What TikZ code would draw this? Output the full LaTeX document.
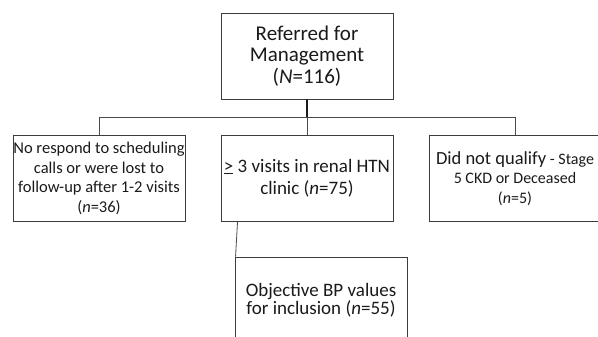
\documentclass[tikz,border=0pt]{standalone}
\usepackage{fontspec}
\setmainfont{Carlito}
\usetikzlibrary{positioning}
\definecolor{ink}{HTML}{1A1A1A}
\definecolor{boxline}{HTML}{3C3C3C}
\definecolor{busline}{HTML}{4A4A4A}

\begin{document}
\begin{tikzpicture}[x=1pt,y=-1pt,
    flowbox/.style={draw=boxline,line width=0.9pt,minimum width=172pt,minimum height=86pt,
      inner sep=0pt,align=center,text=ink},
    busedge/.style={draw=busline,line width=0.8pt}]
  \useasboundingbox (0,0) rectangle (598,337);
  \clip (0,0) rectangle (598,337);
  % top box
  \node[flowbox,font=\fontsize{21}{21.5}\selectfont] (referred) at (307,56)
    {Referred for\\Management\\(\textit{N}=116)};
  % second row
  \node[flowbox,font=\fontsize{16.5}{19.5}\selectfont] (lost) at (99,178.5)
    {No respond to scheduling\\calls or were lost to\\follow-up after 1-2 visits\\(\textit{n}=36)};
  \node[flowbox,font=\fontsize{19}{22}\selectfont] (visits) at (307,178)
    {\underline{>} 3 visits in renal HTN\\clinic (\textit{n}=75)};
  \node[flowbox,font=\fontsize{16}{19.5}\selectfont] (noqual) at (515,178.5)
    {{\fontsize{18.5}{19.5}\selectfont Did not qualify} - Stage\\5 CKD or Deceased\\(\textit{n}=5)};
  % bottom box, cut off at the lower edge
  \node[flowbox,font=\fontsize{19}{17}\selectfont] (incl) at (321,300)
    {Objective BP values\\for inclusion (\textit{n}=55)};
  \coordinate (bus) at (0,117);
  \draw[line width=2pt,ink] (referred.south) -- (referred.south |- bus);
  \draw[busedge] (lost.north) -- (lost.north |- bus) -- (noqual.north |- bus) -- (noqual.north);
  \draw[busedge] (visits.north) -- (visits.north |- bus);
  \draw[busedge] ([xshift=17pt]visits.south west) -- ([xshift=1pt]incl.north west);
\end{tikzpicture}
\end{document}
